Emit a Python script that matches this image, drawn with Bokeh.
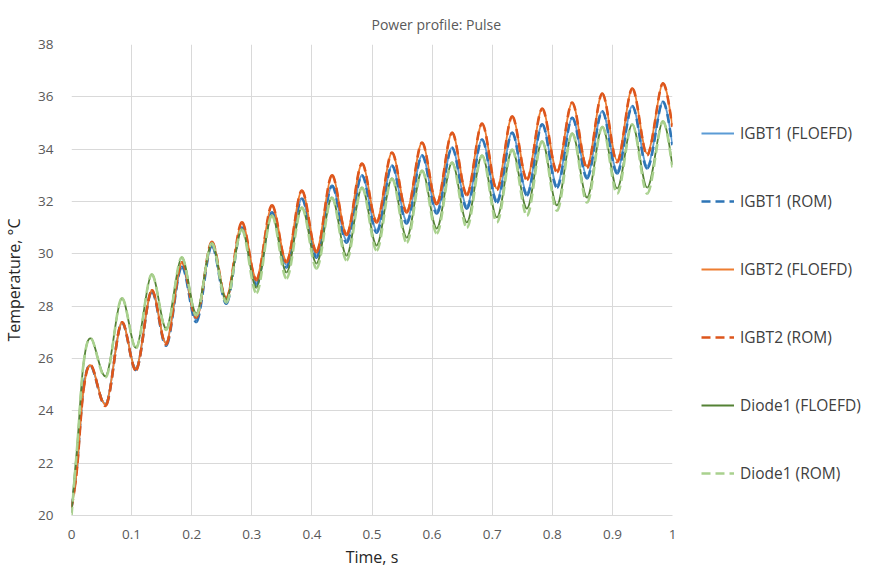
from bokeh.plotting import figure
from bokeh.models import Legend, LegendItem, FixedTicker, NumeralTickFormatter, Range1d
from bokeh.layouts import row
from bokeh.embed import file_html
from bokeh.resources import INLINE

# time (s)
t = [0, 0.005, 0.01, 0.02,
     0.033, 0.058, 0.083, 0.108, 0.133, 0.158, 0.183, 0.208, 0.233, 0.258,
     0.283, 0.308, 0.333, 0.358, 0.383, 0.408, 0.433, 0.458, 0.483, 0.508,
     0.533, 0.558, 0.583, 0.608, 0.633, 0.658, 0.683, 0.708, 0.733, 0.758,
     0.783, 0.808, 0.833, 0.858, 0.883, 0.908, 0.933, 0.958, 0.983, 1.0]

igbt1_floefd = [20.3, 21.1, 22.1, 24.9,
                25.7, 24.3, 27.35, 25.65, 28.55, 26.6, 29.5, 27.5, 30.3, 28.2,
                31.0, 28.9, 31.58, 29.58, 32.11, 29.96, 32.6, 30.53, 33.0, 30.91,
                33.37, 31.26, 33.76, 31.64, 34.06, 31.83, 34.37, 32.06, 34.63, 32.33,
                34.95, 32.63, 35.2, 32.98, 35.45, 33.17, 35.65, 33.36, 35.8, 34.2]
igbt1_rom = [20.3, 21.1, 22.1, 24.9,
             25.7, 24.25, 27.35, 25.58, 28.55, 26.5, 29.5, 27.4, 30.3, 28.1,
             31.0, 28.8, 31.58, 29.48, 32.11, 29.86, 32.6, 30.43, 33.0, 30.81,
             33.37, 31.16, 33.76, 31.54, 34.06, 31.73, 34.37, 31.96, 34.63, 32.23,
             34.95, 32.53, 35.2, 32.88, 35.45, 33.07, 35.65, 33.26, 35.8, 34.15]
igbt2_floefd = [20.3, 21.0, 22.0, 24.8,
                25.73, 24.28, 27.37, 25.62, 28.6, 26.6, 29.67, 27.62, 30.45, 28.33,
                31.2, 29.06, 31.85, 29.74, 32.42, 30.13, 33.0, 30.78, 33.45, 31.27,
                33.87, 31.65, 34.25, 31.96, 34.63, 32.3, 34.98, 32.5, 35.25, 32.88,
                35.55, 33.18, 35.78, 33.34, 36.13, 33.57, 36.32, 33.83, 36.5, 34.9]
igbt2_rom = [20.3, 21.0, 22.0, 24.8,
             25.73, 24.22, 27.37, 25.56, 28.6, 26.55, 29.67, 27.57, 30.45, 28.28,
             31.2, 29.0, 31.85, 29.68, 32.42, 30.07, 33.0, 30.72, 33.45, 31.2,
             33.87, 31.58, 34.25, 31.9, 34.63, 32.24, 34.98, 32.44, 35.25, 32.82,
             35.55, 33.12, 35.78, 33.28, 36.13, 33.5, 36.32, 33.77, 36.5, 34.85]
diode1_floefd = [20.1, 21.5, 22.8, 25.8,
                 26.76, 25.35, 28.29, 26.42, 29.21, 27.15, 29.86, 27.72, 30.4, 28.25,
                 30.93, 28.71, 31.46, 29.29, 31.77, 29.63, 32.15, 29.93, 32.53, 30.32,
                 32.88, 30.62, 33.18, 30.97, 33.49, 31.2, 33.76, 31.39, 33.98, 31.73,
                 34.3, 31.85, 34.6, 32.15, 34.85, 32.5, 34.95, 32.53, 35.05, 33.4]
diode1_rom = [20.0, 21.4, 22.8, 25.8,
              26.76, 25.3, 28.29, 26.4, 29.21, 27.1, 29.86, 27.65, 30.4, 28.15,
              30.93, 28.5, 31.46, 29.06, 31.77, 29.44, 32.15, 29.75, 32.53, 30.13,
              32.88, 30.43, 33.18, 30.78, 33.49, 31.0, 33.76, 31.2, 33.98, 31.46,
              34.3, 31.65, 34.6, 31.96, 34.85, 32.3, 34.95, 32.3, 35.05, 33.3]

series_names = ["IGBT1 (FLOEFD)", "IGBT1 (ROM)", "IGBT2 (FLOEFD)",
                "IGBT2 (ROM)", "Diode1 (FLOEFD)", "Diode1 (ROM)"]
series_values = [igbt1_floefd, igbt1_rom, igbt2_floefd, igbt2_rom, diode1_floefd, diode1_rom]
colors = ["#5B9BD5", "#2E75B6", "#ED7D31", "#DD561C", "#548235", "#A9D18E"]
dashes = ["solid", "9 5", "solid", "9 5", "solid", "9 5"]
widths = [1.8, 2.6, 1.8, 2.6, 1.8, 2.6]

x_ticks = [0, 0.1, 0.2, 0.3, 0.4, 0.5, 0.6, 0.7, 0.8, 0.9, 1.0]
y_ticks = [20, 22, 24, 26, 28, 30, 32, 34, 36, 38]

FONT = "Open Sans"

p = figure(frame_width=601, frame_height=471, output_backend="svg", toolbar_location=None,
           x_range=Range1d(0, 1), y_range=Range1d(20, 38),
           min_border_left=64, min_border_right=7, min_border_top=44, min_border_bottom=40)

p.title.text = "Power profile: Pulse"
p.title.align = "left"
p.title.offset = 300
p.title.standoff = 22
p.title.text_font = FONT
p.title.text_font_size = "14px"
p.title.text_font_style = "normal"
p.title.text_color = "#595959"

p.outline_line_color = None
p.background_fill_color = "white"
p.border_fill_color = "white"

p.xaxis.ticker = FixedTicker(ticks=x_ticks)
p.yaxis.ticker = FixedTicker(ticks=y_ticks)
p.xaxis.formatter = NumeralTickFormatter(format="0.[0]")
p.yaxis.formatter = NumeralTickFormatter(format="0")
for ax in (p.xaxis[0], p.yaxis[0]):
    ax.major_tick_line_color = None
    ax.minor_tick_line_color = None
    ax.major_label_text_font = FONT
    ax.major_label_text_font_size = "13.5px"
    ax.major_label_text_color = "#595959"
    ax.axis_label_text_font = FONT
    ax.axis_label_text_font_size = "16px"
    ax.axis_label_text_font_style = "normal"
    ax.axis_label_text_color = "#262626"
p.xaxis.axis_line_color = "#d9d9d9"
p.yaxis.axis_line_color = None
p.xaxis.axis_label = "Time, s"
p.yaxis.axis_label = "Temperature, °C"
p.xaxis.major_label_standoff = 8
p.yaxis.major_label_standoff = 12
p.xaxis.axis_label_standoff = 4
p.yaxis.axis_label_standoff = 10

p.grid.grid_line_color = "#d9d9d9"
p.grid.grid_line_width = 1


def smooth(xs, ys, **kw):
    """Render the series as a smooth curve through its points (cubic Bezier segments)."""
    n = len(xs)
    x0, y0, x1, y1, cx0, cy0, cx1, cy1 = [], [], [], [], [], [], [], []
    for i in range(n - 1):
        a = max(i - 1, 0)
        d = min(i + 2, n - 1)
        x0.append(xs[i]); y0.append(ys[i])
        x1.append(xs[i + 1]); y1.append(ys[i + 1])
        cx0.append(xs[i] + (xs[i + 1] - xs[a]) / 6.0)
        cy0.append(ys[i] + (ys[i + 1] - ys[a]) / 6.0)
        cx1.append(xs[i + 1] - (xs[d] - xs[i]) / 6.0)
        cy1.append(ys[i + 1] - (ys[d] - ys[i]) / 6.0)
    return p.bezier(x0=x0, y0=y0, x1=x1, y1=y1, cx0=cx0, cy0=cy0, cx1=cx1, cy1=cy1, **kw)


for vals, c, d, w in zip(series_values, colors, dashes, widths):
    smooth(t, vals, line_color=c, line_width=w, line_dash=d)

# legend panel to the right of the chart (frames are aligned by the row layout)
lg = figure(frame_width=185, frame_height=471, output_backend="svg", toolbar_location=None,
            x_range=Range1d(0, 1), y_range=Range1d(0, 1),
            min_border_left=0, min_border_top=44, min_border_right=0, min_border_bottom=40)
lg.axis.visible = False
lg.grid.visible = False
lg.outline_line_color = None
lg.background_fill_alpha = 0

nan = float("nan")
items = []
for name, c, d, w in zip(series_names, colors, dashes, widths):
    r = lg.line(x=[nan], y=[nan], line_color=c, line_width=w, line_dash=d)
    items.append(LegendItem(label=name, renderers=[r]))

legend = Legend(items=items, location=(22, 31), orientation="vertical",
                spacing=46, padding=0, margin=0, glyph_width=33, glyph_height=20,
                label_height=20, label_standoff=6,
                label_text_font=FONT, label_text_font_size="15.5px",
                label_text_color="#404040", border_line_color=None,
                background_fill_alpha=0)
lg.add_layout(legend, "center")

layout = row(p, lg, spacing=0)
open("out.html", "w").write(file_html(layout, INLINE))
